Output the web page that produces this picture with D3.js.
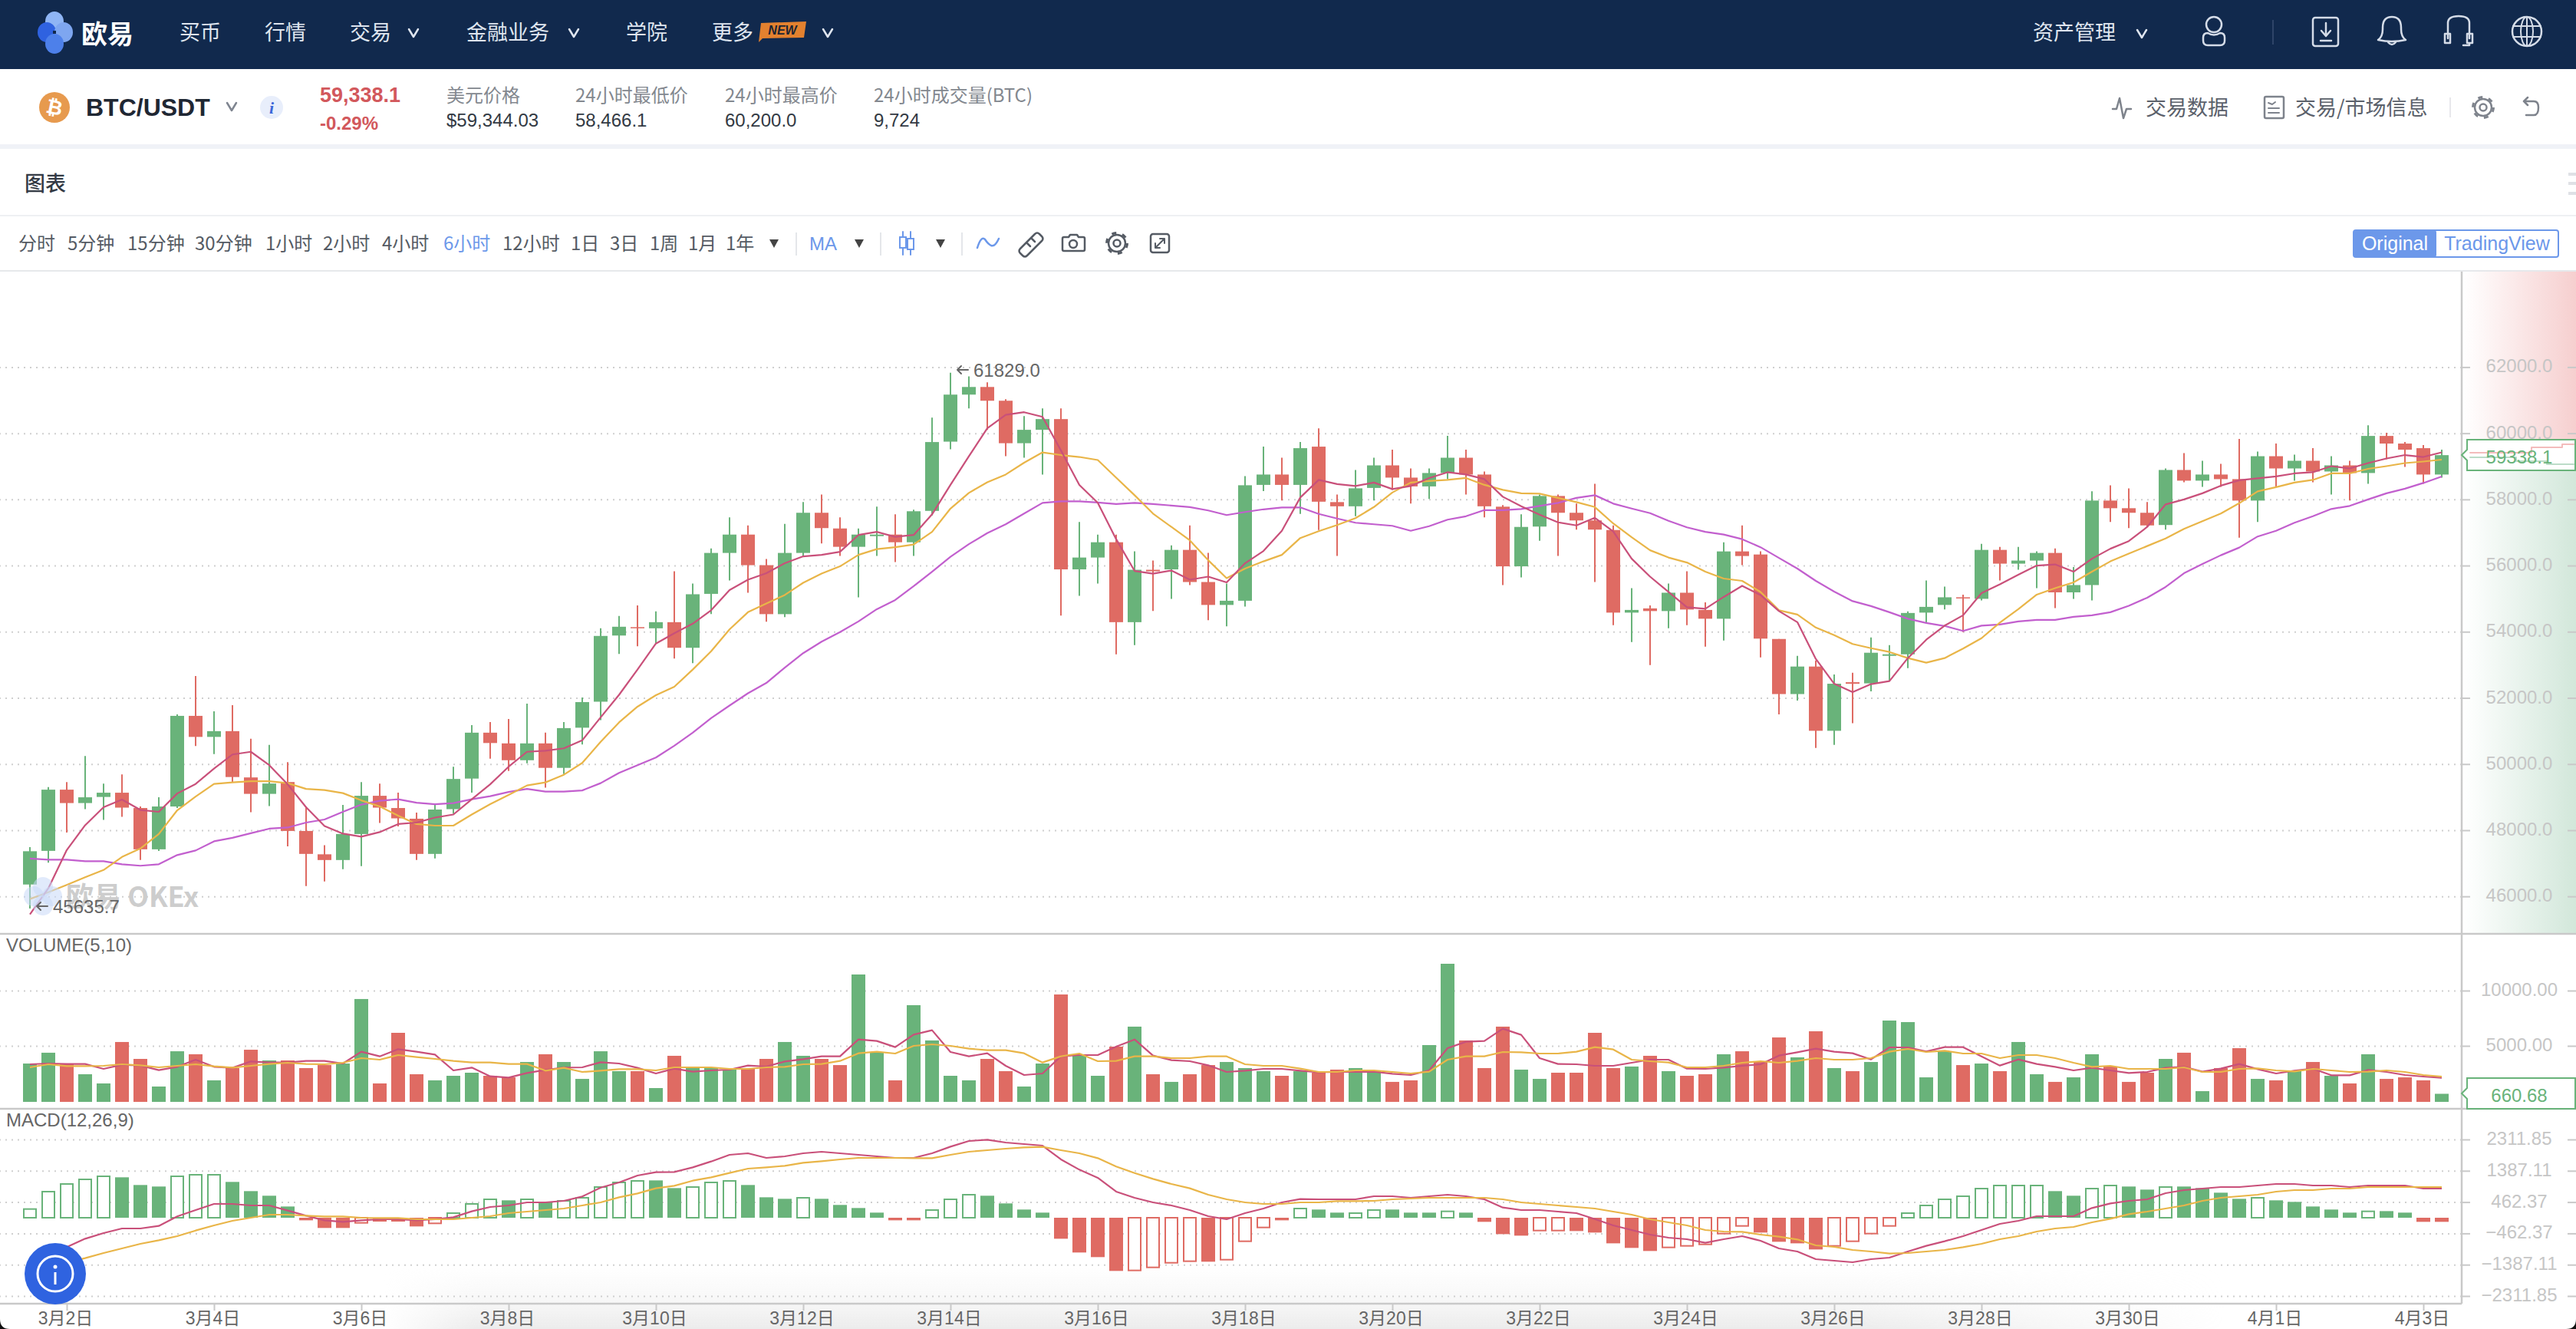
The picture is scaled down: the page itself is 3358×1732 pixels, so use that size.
<!DOCTYPE html>
<html>
<head>
<meta charset="utf-8">
<title>BTC/USDT</title>
<script src="https://cdnjs.cloudflare.com/ajax/libs/d3/7.8.5/d3.min.js"></script>
<style>
  html, body { margin: 0; padding: 0; background: #fff; overflow: hidden; }
  svg { display: block; }
</style>
</head>
<body>
<div id="chart"></div>
<script>
// candles, one every 6 hours
const opens = [46359,47376,49226,48821,49006,49134,48671,47423,48717,51457,
50821,50995,49596,49099,49457,47978,47272,47099,47885,49041,
48671,48348,47284,48637,49561,50949,50625,50116,50625,49885,
51099,51885,53885,54139,54104,54289,53515,55145,56382,56937,
56012,54532,56382,57596,57122,56567,56890,56937,56705,57653,
59746,61168,61399,60983,59699,60104,60428,55885,56243,56705,
54289,55873,55885,56474,55503,54810,54937,58439,58752,58439,
59595,57919,57792,58347,59029,58659,58393,58798,59260,58752,
57780,55977,57179,58104,57596,57364,57075,54578,54706,54625,
55179,54659,54393,56428,56335,53781,52116,52948,51006,52474,
52440,53272,53318,54578,54810,55041,54995,56474,56058,56151,
56382,55191,55411,57965,57734,57596,57226,58890,58567,58752,
58613,57965,59306,58936,59168,58844,59029,58798,59919,59688,
59549,58752];
const closes = [47365,49226,48821,48995,49134,48683,47423,48717,51457,50821,
50995,49608,49099,49411,47978,47284,47099,47885,49041,48683,
48359,47284,48625,49550,50949,50636,50116,50625,49885,51087,
51873,53873,54151,54104,54289,53515,55133,56382,56937,56012,
54532,56382,57596,57133,56567,56937,56937,56705,57642,59734,
61168,61399,60983,59699,60104,60428,55885,56243,56705,54289,
55873,55827,56474,55503,54810,54937,58428,58752,58439,59549,
57931,57792,58335,59029,58659,58393,58798,59260,58752,57792,
55977,57168,58104,57596,57364,57087,54578,54659,54625,55179,
54671,54393,56428,56289,53792,52116,52948,51006,52428,52428,
53365,53318,54567,54752,55041,55006,56474,56058,56151,56382,
55191,55411,57965,57734,57596,57214,58890,58567,58752,58613,
57965,59306,58936,59168,58844,59029,58798,59919,59688,59503,
58752,59338.1];
const highs = [47492,49307,49457,50243,49411,49688,48717,48995,51503,52659,
51596,51781,50764,50579,50058,48717,47550,48764,49457,49411,
49134,48532,48787,49920,51180,51272,51365,51827,50949,51272,
52012,54104,54474,54798,54613,55827,55457,56520,57457,57214,
56197,57260,57919,58150,57457,57122,57780,57549,57688,60474,
61829,61722,61537,61029,60520,60751,60751,57318,56937,56937,
56428,56151,56613,57214,56382,55457,58705,59595,59260,59734,
60150,58150,58890,59260,59503,58936,58936,59919,59503,58844,
57827,57549,58150,58150,57873,58474,57214,55318,54798,55457,
55827,54890,56705,57214,56428,53781,53272,53133,52706,52763,
53827,53596,54613,55549,55364,55122,56659,56567,56567,56428,
56520,55954,58243,58428,58335,57919,58936,59399,59168,59075,
59827,59445,59688,59353,59549,59306,59168,60243,60012,59734,
59642,59503];
const lows = [45635.7,47018,47931,48637,48313,48405,47099,47376,48671,50544,
50301,49446,48544,48729,47515,46313,46452,46822,46914,48220,
48116,47099,47145,48498,49134,50162,49793,50024,49284,49700,
50590,51330,53330,53561,53642,53191,53052,54532,55549,55179,
54301,54440,56289,56671,56289,55041,56289,56104,56289,57515,
59514,60751,60104,59306,59260,58752,54486,55087,55457,53318,
53596,54625,54995,55411,54347,54162,54763,58254,57965,57561,
57075,56289,57491,57965,58289,57873,58012,58613,58150,57457,
55411,55642,56752,56289,57087,55503,54197,53688,52995,54104,
54197,53550,53734,56012,53226,51503,51920,50486,50579,51238,
52197,52521,52902,54278,54671,53989,54948,55549,55873,55318,
54717,54995,54948,57318,57133,57168,57087,58520,58382,58382,
56844,57318,58382,58567,58520,58150,57965,58474,59214,58983,
58474,58659];

const ma5 = [45458,46244,47400,48151,48694,48926,48613,48556,49110,49399,
49862,50290,50371,49966,49388,48694,48128,47897,47804,47943,
48186,48232,48382,48475,48937,49388,49920,50371,50405,50475,
50717,51411,52093,52856,53642,53954,54243,54648,55260,55573,
55769,56070,56278,56324,56416,56925,57018,56867,56925,57549,
58439,59306,60150,60555,60636,60497,59480,58439,57896,56798,
55838,55757,55850,55573,55665,55492,56070,56440,57052,58058,
58590,58463,58405,58509,58312,58405,58647,58821,58752,58613,
58081,57792,57538,57307,57214,57445,57029,56208,55665,55203,
54740,54694,55052,55388,55110,54625,54289,53180,52428,52174,
52417,52509,53203,53758,54185,54497,55168,55434,55723,56000,
56035,55815,56208,56509,56740,57168,57850,58000,58185,58416,
58578,58636,58694,58786,58821,59006,58936,59098,59237,59341,
59283,59422];
const ma10 = [45920,46128,46348,46579,46798,47192,47446,47885,48602,49018,
49399,49446,49480,49480,49423,49249,49215,49122,48902,48717,
48440,48186,48139,48139,48475,48787,49064,49353,49446,49677,
50035,50671,51261,51735,52081,52336,52856,53411,54070,54590,
54856,55110,55480,55757,55977,56324,56497,56555,56636,57018,
57723,58197,58520,58752,59110,59422,59341,59283,59191,58659,
58127,57572,57168,56763,56162,55619,55908,56127,56324,56833,
57041,57226,57434,57769,58208,58509,58555,58590,58647,58439,
58289,58185,58174,58046,57919,57769,57272,56856,56463,56243,
56093,55815,55607,55538,55203,54648,54521,54128,53896,53630,
53503,53388,53203,53064,53203,53492,53804,54278,54682,55122,
55318,55492,55815,56127,56359,56590,56821,57110,57341,57572,
57885,58243,58370,58509,58590,58786,58786,58925,59006,59098,
59145,59202];
const ma30 = [47145,47111,47111,47064,47064,46972,46926,46972,47249,47388,
47665,47770,47908,48047,48082,48232,48324,48556,48775,48891,
48937,48833,48787,48821,48937,49030,49157,49249,49168,49168,
49203,49423,49735,49966,50197,50555,50949,51388,51769,52139,
52451,52914,53353,53700,53989,54312,54682,54960,55376,55815,
56266,56648,56983,57249,57572,57896,57942,57942,57908,57861,
57896,57861,57815,57769,57665,57526,57619,57700,57757,57757,
57561,57422,57295,57249,57202,57052,57191,57387,57491,57676,
57676,57711,57804,57896,58046,58127,57873,57723,57584,57353,
57156,57018,56937,56798,56555,56231,55908,55538,55214,54925,
54775,54590,54393,54266,54174,54023,54185,54220,54312,54359,
54359,54451,54497,54590,54786,55029,55353,55769,56046,56312,
56544,56879,57052,57295,57491,57711,57804,58000,58185,58324,
58497,58694];

const volumes = [3400,4380,3400,2430,1600,5350,3820,1320,4510,4240,
1880,2990,4650,3680,3680,2990,3260,3400,9240,1600,
6180,2430,1880,2290,2570,2290,2150,3540,4240,3540,
2010,4510,2710,2710,1180,4100,2990,2990,2850,2990,
3820,5350,4100,3820,3260,11460,4380,1880,8680,5490,
2290,1880,3820,2710,1320,3400,9650,4240,2290,4930,
6740,2430,1740,2430,3260,3540,2990,2710,2290,2710,
2570,2850,2990,2710,1740,1880,5070,12430,5490,2990,
6740,2850,2010,2570,2570,6180,2990,3130,4100,2710,
2290,2430,4240,4510,3540,5760,3960,6320,2990,2710,
3540,7290,7150,2150,4510,3260,3400,2710,5350,2430,
1740,2150,4240,3130,1740,2570,3820,4380,900,2990,
4790,2010,1880,2710,3540,2290,1600,4240,2010,2150,
1880,660.68];
const volMa5 = [3334,3403,3357,3357,2917,3287,3218,2801,3102,3750,
3102,3010,3588,3496,3496,3635,3635,3403,4468,4051,
4699,4468,4213,2778,3033,2246,2130,2547,2824,3033,
3056,3519,3403,3010,2500,2940,2662,2778,2847,3218,
3125,3588,3797,4051,4051,5579,5440,4885,6019,6413,
4445,4051,4329,3195,2361,2500,4051,4167,4167,4931,
5579,4121,3704,3611,3241,2639,2755,2917,2917,2755,
2616,2639,2639,2662,2477,2361,2778,4792,5371,5440,
6551,5996,3889,3357,3334,3195,3195,3473,3750,3750,
2940,2917,3033,3195,3334,4121,4422,4746,4468,4329,
3773,4862,4862,4491,4885,4885,4051,3218,3773,3357,
3102,2778,3010,2778,2547,2639,3010,3102,2662,2940,
3357,2894,2500,2755,2940,2338,2338,2824,2639,2361,
2222,2107];
const volMa10 = [3056,3334,3172,3172,3195,3334,3241,3056,3195,3334,
3148,3033,3195,3357,3473,3357,3334,3473,3889,3750,
4167,3982,3820,3635,3496,3496,3357,3357,2755,3010,
2639,2755,2894,2894,2778,3056,3056,3056,2917,2917,
3056,3102,3334,3357,3635,4329,4468,4306,5000,5139,
5000,4746,4607,4607,4329,3496,4051,4306,3611,3635,
4051,4051,3889,3889,4051,4051,3334,3195,3195,2940,
2639,2639,2778,2778,2639,2500,2662,3750,4051,4051,
4445,4422,4306,4306,4468,4885,4676,3750,3611,3496,
3056,3056,3195,3473,3611,3473,3635,3889,3750,3750,
3889,4468,4723,4445,4561,4306,4306,3889,4167,4167,
3889,3473,3102,3195,2917,2917,2917,3056,2639,2639,
2917,2963,2778,2685,2917,2778,2639,2662,2778,2639,
2361,2222];

const macdHist = [257,771,997,1133,1224,1194,967,922,1224,1269,
1269,1058,786,650,332,-76,-302,-302,-151,-113,
-113,-257,-166,136,408,544,514,544,453,499,
589,907,1043,1088,1103,876,907,1043,1088,967,
604,559,589,559,378,287,151,-76,-76,227,
544,680,650,423,242,151,-620,-1027,-1163,-1571,
-1556,-1466,-1330,-1284,-1299,-1239,-695,-287,-76,272,
242,151,136,227,242,151,151,189,151,-121,
-484,-529,-378,-378,-393,-438,-756,-891,-982,-876,
-831,-786,-468,-242,-438,-710,-756,-937,-831,-695,
-468,-242,136,363,544,635,861,952,952,952,
786,650,861,952,922,831,907,922,876,740,
559,589,514,468,332,242,151,189,196,151,
-121,-121];
const macdHollow = [0,1,2,3,4,8,9,10,18,22,23,24,25,27,29,30,31,32,33,36,37,38,42,49,50,51,
60,61,62,63,65,66,67,69,72,73,77,82,83,89,90,91,92,93,98,99,100,101,102,103,
104,105,106,107,108,109,112,113,116,121,127];
const macdDif = [-1927,-1435,-869,-620,-453,-317,-317,-242,38,227,
408,408,363,363,212,60,-76,-121,-76,-45,
-45,-76,-45,15,189,317,363,453,453,499,
627,891,1043,1247,1345,1352,1488,1662,1859,1904,
1768,1813,1904,1949,1904,1859,1813,1768,1768,1904,
2100,2267,2304,2221,2176,2130,1723,1420,1179,771,
589,453,363,227,45,-45,136,272,453,552,
544,544,544,635,635,589,635,680,635,544,
302,227,227,181,136,-38,-227,-363,-499,-589,
-635,-740,-635,-544,-680,-907,-997,-1224,-1269,-1315,
-1224,-1179,-997,-831,-695,-544,-363,-181,-91,45,
45,45,287,423,499,544,725,816,861,907,
907,952,997,997,952,952,907,952,952,952,
861,861];
const macdDea = [-1609,-1473,-1330,-1194,-1043,-907,-771,-665,-544,-378,
-227,-91,0,91,91,60,38,38,0,-8,
-8,-45,-45,-45,0,45,136,181,227,272,
363,453,604,718,869,944,1095,1194,1322,1451,
1488,1534,1624,1670,1723,1768,1768,1768,1760,1760,
1859,1949,1995,2040,2078,2093,1995,1904,1760,1511,
1322,1148,997,869,680,544,453,408,408,453,
453,491,491,499,544,567,589,589,589,589,
544,453,408,363,317,272,181,91,-45,-136,
-227,-363,-408,-416,-499,-559,-642,-816,-861,-952,
-997,-1058,-1043,-997,-952,-869,-771,-635,-544,-408,
-317,-272,-136,-30,106,181,272,363,499,589,
635,680,771,816,816,861,861,907,907,907,
907,907];

const priceTicks = [46000,48000,50000,52000,54000,56000,58000,60000,62000];
const volumeTicks = [5000,10000];
const macdTicks = [-2311.85,-1387.11,-462.37,462.37,1387.11,2311.85];
const dateLabels = ["3月2日","3月4日","3月6日","3月8日","3月10日","3月12日","3月14日","3月16日",
  "3月18日","3月20日","3月22日","3月24日","3月26日","3月28日","3月30日","4月1日","4月3日"];
const navLeft = ["买币","行情","交易","金融业务","学院","更多"];
const statNames = ["美元价格","24小时最低价","24小时最高价","24小时成交量(BTC)"];
const statValues = ["$59,344.03","58,466.1","60,200.0","9,724"];
const periods = ["分时","5分钟","15分钟","30分钟","1小时","2小时","4小时","6小时","12小时","1日","3日","1周","1月","1年"];

const W = 3358, H = 1732;
const cjk = "'Noto Sans CJK SC','Liberation Sans',sans-serif";
const latin = "'Liberation Sans',Arial,sans-serif";
const mixed = "'Liberation Sans','Noto Sans CJK SC',sans-serif";
const UP = "#69b37a", DOWN = "#df6b63";
const PINK = "#c9507a", ORANGE = "#e9b548", PURPLE = "#c25fce";
const GRID = "#cfcfcf", AXIS = "#c9c9c9", TICK_TEXT = "#c6c6c6", DIM = "#666";
const BLUE = "#6c98ea";

const axisX = 3209;
const indexes = d3.range(opens.length);
const x = d3.scaleLinear().domain([0, opens.length - 1]).range([39, 3183]);
const yPrice = d3.scaleLinear().domain([46000, 62000]).range([1168.2, 478.4]);
const yVol = d3.scaleLinear().domain([0, 10000]).range([1435, 1291]);
const yMacd = d3.scaleLinear().domain([-2311.85, 2311.85]).range([1689, 1485]);

const svg = d3.select("#chart").append("svg").attr("width", W).attr("height", H);
const defs = svg.append("defs");

function hGrad(id, stops) {
  const g = defs.append("linearGradient").attr("id", id);
  stops.forEach(([o, c, a]) => g.append("stop").attr("offset", o).attr("stop-color", c).attr("stop-opacity", a));
}
hGrad("askFade", [[0, "#f6cfcf", 0], [0.12, "#f6cfcf", 0.1], [1, "#f6cfcf", 1]]);
hGrad("bidFade", [[0, "#d2e7da", 0], [0.12, "#d2e7da", 0.1], [1, "#d2e7da", 1]]);
hGrad("dockEdge", [[0, "#fff", 0], [0.05, "#fff", 1], [0.8, "#fff", 1], [1, "#fff", 0]]);
const dockV = defs.append("linearGradient").attr("id", "dockV").attr("x2", 0).attr("y2", 1);
dockV.append("stop").attr("offset", 0).attr("stop-color", "#ececec").attr("stop-opacity", 0);
dockV.append("stop").attr("offset", 0.6).attr("stop-color", "#ececec").attr("stop-opacity", 0.45);
dockV.append("stop").attr("offset", 1).attr("stop-color", "#ececec").attr("stop-opacity", 1);
defs.append("mask").attr("id", "dockMask").attr("maskUnits", "userSpaceOnUse")
  .attr("x", 0).attr("y", 0).attr("width", W).attr("height", H)
  .append("rect").attr("x", 500).attr("y", 1650).attr("width", 2400).attr("height", 82).attr("fill", "url(#dockEdge)");

function text(g, px, py, str, size, fill, opts = {}) {
  const font = opts.font || cjk;
  return g.append("text")
    .attr("x", px).attr("y", font === cjk ? py - 2 : py)
    .attr("dominant-baseline", "central")
    .attr("text-anchor", opts.anchor || "start")
    .attr("font-family", font)
    .attr("font-size", size)
    .attr("font-weight", opts.weight || 400)
    .attr("font-style", opts.style || "normal")
    .attr("fill", fill)
    .text(str);
}
function icon(g, d, stroke, width = 2.5) {
  return g.append("path").attr("d", d).attr("fill", "none").attr("stroke", stroke)
    .attr("stroke-width", width).attr("stroke-linecap", "round").attr("stroke-linejoin", "round");
}
const chevron = (g, cx, cy, c) => icon(g, `M${cx - 6},${cy - 5}L${cx},${cy + 5}L${cx + 6},${cy - 5}`, c);
const caret = (g, cx, cy) => g.append("path").attr("d", `M${cx - 6},${cy - 5}H${cx + 6}L${cx},${cy + 6}Z`).attr("fill", "#444");
function gear(g, cx, cy, c) {
  g.append("circle").attr("cx", cx).attr("cy", cy).attr("r", 11).attr("fill", "none").attr("stroke", c).attr("stroke-width", 2.5);
  g.append("circle").attr("cx", cx).attr("cy", cy).attr("r", 13.5).attr("fill", "none").attr("stroke", c)
    .attr("stroke-width", 3).attr("stroke-dasharray", "6 8.1");
  g.append("circle").attr("cx", cx).attr("cy", cy).attr("r", 4.5).attr("fill", "none").attr("stroke", c).attr("stroke-width", 2.5);
}

// ---- top navigation
const nav = svg.append("g");
nav.append("rect").attr("width", W).attr("height", 90).attr("fill", "#11294d");
[[71, 28, "#8fb5f5"], [61, 42, "#2f62e0"], [83, 42, "#7ea6f0"], [71, 57, "#4d80ea"]].forEach(([cx, cy, c]) =>
  nav.append("ellipse").attr("cx", cx).attr("cy", cy).attr("rx", 12).attr("ry", 13).attr("fill", c));
nav.append("rect").attr("x", 69).attr("y", 40).attr("width", 4).attr("height", 4).attr("fill", "#11294d");
text(nav, 106, 44, "欧易", 34, "#fff", { weight: 700 });
const navX = [234, 345, 456, 608, 816, 928];
navLeft.forEach((s, i) => text(nav, navX[i], 42, s, 27, "#dfe5ef"));
chevron(nav, 539, 43, "#dfe5ef"); chevron(nav, 748, 43, "#dfe5ef"); chevron(nav, 1079, 43, "#dfe5ef");
nav.append("path").attr("d", "M992,30L1051,28L1048,49L994,50L989,55Z").attr("fill", "#e3812f");
text(nav, 1020, 39, "NEW", 16, "#1a2433", { anchor: "middle", font: latin, weight: 700, style: "italic" });
text(nav, 2650, 42, "资产管理", 27, "#dfe5ef");
chevron(nav, 2792, 44, "#dfe5ef");
const navIcon = "#d5dce8";
nav.append("circle").attr("cx", 2886).attr("cy", 32).attr("r", 10).attr("fill", "none").attr("stroke", navIcon).attr("stroke-width", 2.5);
icon(nav, "M2872,49q0,-6 6,-6q8,5 16,0q6,0 6,6v4q0,6 -6,6h-16q-6,0 -6,-6z", navIcon);
nav.append("line").attr("x1", 2963).attr("x2", 2963).attr("y1", 26).attr("y2", 58).attr("stroke", "#2e4468").attr("stroke-width", 2);
nav.append("rect").attr("x", 3015).attr("y", 23).attr("width", 33).attr("height", 37).attr("rx", 3).attr("fill", "none").attr("stroke", navIcon).attr("stroke-width", 2.5);
icon(nav, "M3032,30v16M3026,40l6,7l6,-7M3025,53h14", navIcon);
icon(nav, "M3100,52q6,-4 6,-14v-2q0,-14 12,-14q12,0 12,14v2q0,10 6,14q-18,4 -36,0zM3113,55q5,6 10,0", navIcon);
icon(nav, "M3191,50v-20q0,-9 14,-9q14,0 14,9v20M3187,44h7v12h-7zM3216,44h7v12h-7zM3219,56v3h-8", navIcon);
nav.append("circle").attr("cx", 3294).attr("cy", 41).attr("r", 19).attr("fill", "none").attr("stroke", navIcon).attr("stroke-width", 2.5);
nav.append("ellipse").attr("cx", 3294).attr("cy", 41).attr("rx", 8).attr("ry", 19).attr("fill", "none").attr("stroke", navIcon).attr("stroke-width", 2);
icon(nav, "M3294,22v38M3276,34h36M3276,48h36", navIcon, 2);

// ---- ticker row
const ticker = svg.append("g");
ticker.append("circle").attr("cx", 71).attr("cy", 140).attr("r", 20).attr("fill", "#e79a4e");
text(ticker, 71, 140, "₿", 26, "#fff", { anchor: "middle", font: "'DejaVu Sans',sans-serif", weight: 700 })
  .attr("transform", "rotate(12 71 140)");
text(ticker, 112, 140, "BTC/USDT", 32, "#1f2733", { font: latin, weight: 700 });
chevron(ticker, 302, 139, "#7f8590");
ticker.append("circle").attr("cx", 354).attr("cy", 140).attr("r", 15).attr("fill", "#e8eefb");
text(ticker, 354, 140, "i", 22, "#3a66d8", { anchor: "middle", font: "'Liberation Serif',serif", weight: 700, style: "italic" });
text(ticker, 417, 124, "59,338.1", 27, "#d2585c", { font: latin, weight: 700 });
text(ticker, 417, 160, "-0.29%", 24, "#d2585c", { font: latin, weight: 700 });
const statX = [582, 750, 945, 1139];
statNames.forEach((s, i) => {
  text(ticker, statX[i], 124, s, 24, "#83888f");
  text(ticker, statX[i], 156, statValues[i], 24, "#333a44", { font: latin });
});
const greyIcon = "#7e838c";
icon(ticker, "M2754,142h5l4,-14l5,26l4,-12h6", greyIcon);
text(ticker, 2797, 140, "交易数据", 27, "#5b616b");
ticker.append("rect").attr("x", 2952).attr("y", 126).attr("width", 25).attr("height", 28).attr("rx", 2).attr("fill", "none").attr("stroke", greyIcon).attr("stroke-width", 2.5);
icon(ticker, "M2957,134l5,2l4,-3M2957,141h14M2957,147h14", greyIcon, 2);
text(ticker, 2992, 140, "交易/市场信息", 27, "#5b616b");
ticker.append("line").attr("x1", 3194).attr("x2", 3194).attr("y1", 127).attr("y2", 153).attr("stroke", "#e8e8ec").attr("stroke-width", 2);
gear(ticker, 3237, 140, greyIcon);
icon(ticker, "M3290,132h13q6,0 6,8q0,10 -6,10h-10M3290,132l5,-5M3290,132l5,5", greyIcon);
svg.append("rect").attr("y", 188).attr("width", W).attr("height", 6).attr("fill", "#f0f2f7");

// ---- chart header + toolbar
const head = svg.append("g");
text(head, 32, 239, "图表", 27, "#333a44", { weight: 500 });
[227, 239, 252].forEach((yy) => head.append("rect").attr("x", 3348).attr("y", yy - 2).attr("width", 10).attr("height", 4).attr("fill", "#dfe1e6"));
head.append("rect").attr("y", 280).attr("width", W).attr("height", 2).attr("fill", "#eef0f3");
head.append("rect").attr("y", 352).attr("width", W).attr("height", 2).attr("fill", "#e6e8eb");
const periodX = [24, 88, 166, 254, 346, 421, 498, 578, 655, 744, 795, 847, 897, 946];
periods.forEach((s, i) => text(head, periodX[i], 317, s, 24, s === "6小时" ? BLUE : "#555b64"));
caret(head, 1009, 317); caret(head, 1120, 317); caret(head, 1226, 317);
[1038, 1148, 1254].forEach((sx) => head.append("line").attr("x1", sx).attr("x2", sx).attr("y1", 303).attr("y2", 333).attr("stroke", "#e4e6ea").attr("stroke-width", 2));
text(head, 1055, 317, "MA", 24, BLUE, { font: latin });
icon(head, "M1177,302v30M1187,302v30", BLUE, 2);
head.append("rect").attr("x", 1173).attr("y", 309).attr("width", 8).attr("height", 14).attr("fill", "#fff").attr("stroke", BLUE).attr("stroke-width", 2);
head.append("rect").attr("x", 1183).attr("y", 311).attr("width", 8).attr("height", 14).attr("fill", "#fff").attr("stroke", BLUE).attr("stroke-width", 2);
icon(head, "M1274,323q5,-16 10,-11q4,6 8,8q5,2 10,-9", BLUE);
icon(head, "M1330,324l19,-19q3,-3 6,0l3,3q3,3 0,6l-19,19q-3,3 -6,0l-3,-3q-3,-3 0,-6zM1338,316l5,5M1344,310l5,5", "#555b64");
icon(head, "M1387,309h6l2,-3h9l2,3h6q2,0 2,2v14q0,2 -2,2h-25q-2,0 -2,-2v-14q0,-2 2,-2z", "#555b64");
head.append("circle").attr("cx", 1399).attr("cy", 318).attr("r", 5).attr("fill", "none").attr("stroke", "#555b64").attr("stroke-width", 2.5);
gear(head, 1456, 317, "#555b64");
head.append("rect").attr("x", 1500).attr("y", 305).attr("width", 24).attr("height", 24).attr("rx", 3).attr("fill", "none").attr("stroke", "#555b64").attr("stroke-width", 2.5);
icon(head, "M1506,323l12,-12M1512,311h6v6M1506,317v6h6", "#555b64", 2);
head.append("rect").attr("x", 3068).attr("y", 300).attr("width", 267).attr("height", 35).attr("rx", 3).attr("fill", "#fff").attr("stroke", BLUE).attr("stroke-width", 2);
head.append("rect").attr("x", 3068).attr("y", 300).attr("width", 108).attr("height", 35).attr("rx", 3).attr("fill", BLUE);
text(head, 3122, 317, "Original", 25, "#fff", { anchor: "middle", font: latin });
text(head, 3255, 317, "TradingView", 25, BLUE, { anchor: "middle", font: latin });

// ---- panel backgrounds
const bg = svg.append("g");
bg.append("rect").attr("x", axisX).attr("y", 354).attr("width", W - axisX).attr("height", 219).attr("fill", "url(#askFade)");
bg.append("rect").attr("x", axisX).attr("y", 613).attr("width", W - axisX).attr("height", 604).attr("fill", "url(#bidFade)");
bg.append("rect").attr("x", 500).attr("y", 1650).attr("width", 2400).attr("height", 82).attr("fill", "url(#dockV)").attr("mask", "url(#dockMask)");

// ---- horizontal grid and axes
function yAxis(scale, ticks, format) {
  const right = svg.append("g").attr("transform", `translate(${axisX},0)`)
    .call(d3.axisRight(scale).tickValues(ticks).tickSize(11).tickFormat(format));
  right.select(".domain").remove();
  right.selectAll("line").attr("stroke", AXIS).attr("stroke-width", 2);
  right.selectAll("text").attr("x", 75).attr("dy", 0).attr("dominant-baseline", "central")
    .attr("text-anchor", "middle").attr("transform", "translate(0,-2)")
    .attr("font-family", latin).attr("font-size", 24).attr("fill", TICK_TEXT);
  const stub = svg.append("g").attr("transform", `translate(${W},0)`)
    .call(d3.axisLeft(scale).tickValues(ticks).tickSize(11).tickFormat(""));
  stub.select(".domain").remove();
  stub.selectAll("line").attr("stroke", AXIS).attr("stroke-width", 2);
  const grid = svg.append("g").attr("transform", `translate(${axisX},0)`)
    .call(d3.axisLeft(scale).tickValues(ticks).tickSize(axisX).tickFormat(""));
  grid.select(".domain").remove();
  grid.selectAll("line").attr("stroke", GRID).attr("stroke-width", 2).attr("stroke-dasharray", "2 6");
}
yAxis(yPrice, priceTicks, d3.format(".1f"));
yAxis(yVol, volumeTicks, d3.format(".2f"));
yAxis(yMacd, macdTicks, d3.format(".2f"));

// ---- candles
const candles = svg.append("g");
const candleColor = (i) => (closes[i] >= opens[i] ? UP : DOWN);
candles.selectAll("line").data(indexes).join("line")
  .attr("x1", (i) => x(i)).attr("x2", (i) => x(i))
  .attr("y1", (i) => yPrice(highs[i])).attr("y2", (i) => yPrice(lows[i]))
  .attr("stroke", candleColor).attr("stroke-width", 2);
candles.selectAll("rect").data(indexes).join("rect")
  .attr("x", (i) => x(i) - 9).attr("width", 18)
  .attr("y", (i) => yPrice(Math.max(opens[i], closes[i])))
  .attr("height", (i) => Math.max(1.5, Math.abs(yPrice(opens[i]) - yPrice(closes[i]))))
  .attr("fill", candleColor);

function drawLine(values, scale, color) {
  svg.append("path").datum(values)
    .attr("fill", "none").attr("stroke", color).attr("stroke-width", 2.2).attr("stroke-linejoin", "round")
    .attr("d", d3.line().x((d, i) => x(i)).y((d) => scale(d)));
}
drawLine(ma30, yPrice, PURPLE);
drawLine(ma10, yPrice, ORANGE);
drawLine(ma5, yPrice, PINK);

// ---- watermark and extremes
const mark = svg.append("g");
[[56, 1156], [44, 1168], [68, 1168], [56, 1180]].forEach(([cx, cy]) =>
  mark.append("circle").attr("cx", cx).attr("cy", cy).attr("r", 13).attr("fill", "#c8d8f7").attr("opacity", 0.55));
text(mark, 86, 1168, "欧易 OKEx", 36, "#cdcdcd", { weight: 700 });
function extreme(i, value, yText) {
  const ax = x(i) + 9;
  icon(svg, `M${ax + 14},${yText}H${ax}M${ax + 5},${yText - 5}L${ax},${yText}L${ax + 5},${yText + 5}`, "#666", 2);
  text(svg, ax + 21, yText, value.toFixed(1), 24, DIM, { font: latin });
}
extreme(50, highs[50], 482);
extreme(0, lows[0], 1181);

// ---- volume
const volG = svg.append("g");
volG.selectAll("rect").data(indexes).join("rect")
  .attr("x", (i) => x(i) - 9).attr("width", 18)
  .attr("y", (i) => yVol(volumes[i]))
  .attr("height", (i) => yVol(0) + 1 - yVol(volumes[i]))
  .attr("fill", candleColor);
drawLine(volMa5, yVol, PINK);
drawLine(volMa10, yVol, ORANGE);

// ---- macd
const macdG = svg.append("g");
macdG.selectAll("rect").data(indexes).join("rect")
  .each(function (i) {
    const hollow = macdHollow.includes(i);
    const color = macdHist[i] >= 0 ? UP : DOWN;
    const inset = hollow ? 1 : 0;
    d3.select(this)
      .attr("x", x(i) - 9 + inset).attr("width", 18 - 2 * inset)
      .attr("y", Math.min(yMacd(macdHist[i]), yMacd(0)))
      .attr("height", Math.abs(yMacd(macdHist[i]) - yMacd(0)))
      .attr("fill", hollow ? "#fff" : color)
      .attr("stroke", hollow ? color : "none")
      .attr("stroke-width", hollow ? 2 : 0);
  });
drawLine(macdDif, yMacd, PINK);
drawLine(macdDea, yMacd, ORANGE);

// ---- separators
const sep = svg.append("g").attr("stroke", AXIS).attr("stroke-width", 2.5);
sep.append("line").attr("x1", 0).attr("x2", W).attr("y1", 1217).attr("y2", 1217);
sep.append("line").attr("x1", 0).attr("x2", W).attr("y1", 1445).attr("y2", 1445);
sep.append("line").attr("x1", 0).attr("x2", axisX).attr("y1", 1699).attr("y2", 1699);
sep.append("line").attr("x1", axisX).attr("x2", axisX).attr("y1", 354).attr("y2", 1699);

text(svg, 8, 1231, "VOLUME(5,10)", 24, DIM, { font: latin });
text(svg, 8, 1459, "MACD(12,26,9)", 24, DIM, { font: latin });

// ---- time axis
const tickIdx = dateLabels.map((d, i) => 2 + i * 8);
const xAxis = svg.append("g").attr("transform", "translate(0,1699)")
  .call(d3.axisBottom(x).tickValues(tickIdx).tickSize(9).tickFormat((d, i) => dateLabels[i]));
xAxis.select(".domain").remove();
xAxis.selectAll("line").attr("stroke", AXIS).attr("stroke-width", 2);
xAxis.selectAll("text").attr("y", 19).attr("dy", 0).attr("dx", -2).attr("dominant-baseline", "central")
  .attr("font-family", mixed).attr("font-size", 23).attr("fill", DIM);

// ---- last value tags
function lastTag(top, bottom, value) {
  const mid = (top + bottom) / 2;
  svg.append("path")
    .attr("d", `M3216,${top}H3357V${bottom}H3216V${mid + 7}L3209,${mid}L3216,${mid - 7}Z`)
    .attr("fill", "#fff").attr("stroke", UP).attr("stroke-width", 2);
  const steps = value === "59338.1";
  if (steps) {
    icon(svg, "M3220,590H3300V583H3340V579H3355", "#f3bcbc", 2);
    icon(svg, "M3220,596H3280V601H3320V605H3355", "#bcdcc8", 2);
  }
  text(svg, 3284, mid + 2, value, 24, UP, { anchor: "middle", font: latin });
}
lastTag(573, 613, "59338.1");
lastTag(1405, 1445, "660.68");

// ---- floating info button
const info = svg.append("g");
info.append("circle").attr("cx", 72).attr("cy", 1660).attr("r", 40).attr("fill", "#2f63e0");
info.append("circle").attr("cx", 72).attr("cy", 1660).attr("r", 23).attr("fill", "none").attr("stroke", "#fff").attr("stroke-width", 3);
info.append("circle").attr("cx", 72).attr("cy", 1651).attr("r", 2.5).attr("fill", "#fff");
info.append("line").attr("x1", 72).attr("x2", 72).attr("y1", 1658).attr("y2", 1674).attr("stroke", "#fff").attr("stroke-width", 3);

// window corners
svg.append("path").attr("d", `M0,${H - 13}Q0,${H} 13,${H}H0Z`).attr("fill", "#111");
svg.append("path").attr("d", `M${W},${H - 13}Q${W},${H} ${W - 13},${H}H${W}Z`).attr("fill", "#111");
</script>
</body>
</html>
